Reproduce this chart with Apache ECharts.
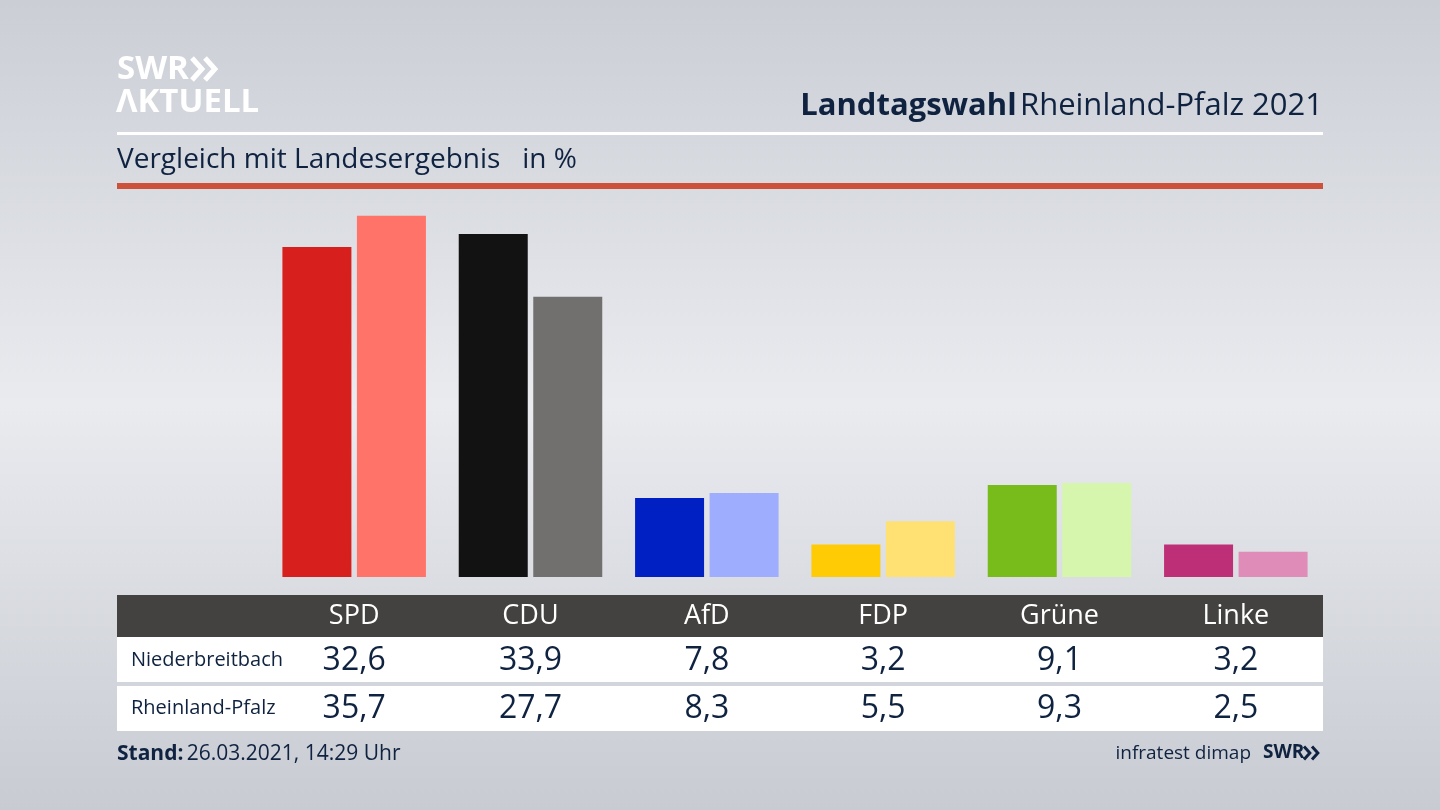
<!DOCTYPE html>
<html><head><meta charset="utf-8">
<style>html,body{margin:0;padding:0;width:1440px;height:810px;overflow:hidden}#c{width:1440px;height:810px}</style>
<script src="https://cdn.jsdelivr.net/npm/echarts@6/dist/echarts.min.js"></script>
</head><body><div id="c"></div>
<script>
const parties = ['SPD','CDU','AfD','FDP','Grüne','Linke'];
const niederbreitbach = [32.6,33.9,7.8,3.2,9.1,3.2];
const rheinlandPfalz = [35.7,27.7,8.3,5.5,9.3,2.5];
const rowNames = ['Niederbreitbach','Rheinland-Pfalz'];
const colorsA = ['#d7201e','#121212','#0020c4','#ffcb05','#78bc1b','#bd2f77'];
const colorsB = ['#ff7369','#72706e','#9fadff','#ffe173','#d5f6ac','#e08cb8'];
const FONT = '"Open Sans","Noto Sans",sans-serif';
const INK = '#0f2240';
const fmt = v => v.toFixed(1).replace('.',',');
const chart = echarts.init(document.getElementById('c'),null,{renderer:'canvas'});
const rect=(x,y,w,h,fill,z)=>({type:'rect',shape:{x,y,width:w,height:h},style:{fill},z:z||0,silent:true});
const txt=(x,y,text,size,weight,fill,align,family)=>({type:'text',x,y,z:5,silent:true,style:{text,fontSize:size,fontWeight:weight||'normal',fill:fill||INK,align:align||'left',verticalAlign:'middle',fontFamily:family||FONT}});
const chev=(x,y,s,lw,c)=>({type:'polyline',z:5,silent:true,shape:{points:[[x,y-s],[x+s*0.9,y],[x,y+s]]},style:{stroke:c,lineWidth:lw,fill:null}});
chart.setOption({
  animation:false,
  backgroundColor:{type:'linear',x:0,y:0,x2:0,y2:1,colorStops:[
    {offset:0,color:'#cbced5'},{offset:0.5,color:'#e9ebef'},{offset:1,color:'#c8cbd2'}]},
  grid:{left:266,width:1058,top:212.7,height:364.3},
  xAxis:{type:'category',data:parties,axisLine:{show:false},axisTick:{show:false},
    axisLabel:{interval:0,margin:17,color:'#fff',fontFamily:FONT,
      formatter:(name,i)=>`{h|${name}}\n{a|${fmt(niederbreitbach[i])}}\n{b|${fmt(rheinlandPfalz[i])}}`,
      rich:{
        h:{fontSize:27,lineHeight:44,color:'#fff',fontFamily:FONT,align:'center'},
        a:{fontSize:32,lineHeight:45,color:INK,fontFamily:FONT,align:'center'},
        b:{fontSize:32,lineHeight:52,color:INK,fontFamily:FONT,align:'center'}}}},
  yAxis:{type:'value',min:0,max:36,show:false},
  series:[
    {name:rowNames[0],type:'bar',barWidth:69,barGap:'8%',silent:true,
     data:niederbreitbach.map((v,i)=>({value:v,itemStyle:{color:colorsA[i]}}))},
    {name:rowNames[1],type:'bar',barWidth:69,barGap:'8%',silent:true,
     data:rheinlandPfalz.map((v,i)=>({value:v,itemStyle:{color:colorsB[i]}}))}
  ],
  graphic:{elements:[
    rect(117,132,1206,3,'#ffffff'),
    rect(117,183,1206,6,'#cd523b'),
    rect(117,595,1206,42,'#434240'),
    rect(117,637,1206,45,'#ffffff'),
    rect(117,686,1206,45,'#ffffff'),
    txt(117,70,'SWR',33,'bold','#ffffff'),
    chev(192,69,11,5,'#fff'),chev(205,69,11,5,'#fff'),
    txt(116,103,'ΛKTUELL',33,'bold','#ffffff'),
    {type:'text',x:1323,y:106,z:5,silent:true,style:{align:'right',verticalAlign:'middle',text:'{b|Landtagswahl} {r|Rheinland-Pfalz 2021}',rich:{b:{fontSize:31,fontWeight:'bold',fill:INK,fontFamily:FONT},r:{fontSize:31,fill:INK,fontFamily:FONT}}}},
    txt(117,160,'Vergleich mit Landesergebnis   in %',28),
    txt(131,660,rowNames[0],20),
    txt(131,708,rowNames[1],20),
    {type:'text',x:117,y:754,z:5,silent:true,style:{verticalAlign:'middle',text:'{b|Stand:} {r|26.03.2021, 14:29 Uhr}',rich:{b:{fontSize:21,fontWeight:'bold',fill:INK,fontFamily:FONT},r:{fontSize:21,fill:INK,fontFamily:FONT}}}},
    txt(1251,754,'infratest dimap',19,'normal',INK,'right'),
    txt(1263,753,'SWR',19,'bold',INK),
    chev(1304,753,6.5,3,INK),chev(1312,753,6.5,3,INK)
  ]}
});
</script></body></html>
